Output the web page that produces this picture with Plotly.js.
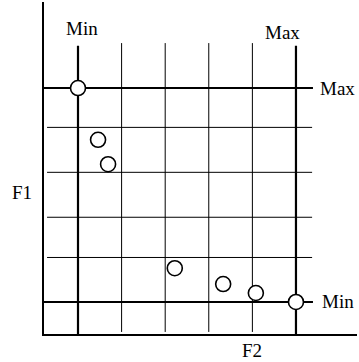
<!DOCTYPE html>
<html>
<head>
<meta charset="utf-8">
<script src="https://cdn.plot.ly/plotly-3.0.1.min.js"></script>
<style>
  html, body { margin: 0; padding: 0; background: #fff; }
  #chart { width: 359px; height: 362px; }
</style>
</head>
<body>
<div id="chart"></div>
<script>
// points (F2 across, F1 up; Min = 0, Max = 5)
var f2 = [0, 0.46, 0.69, 2.22, 3.33, 4.08, 5];
var f1 = [5, 3.79, 3.22, 0.79, 0.42, 0.21, 0];

// grid positions
var gridX = [0, 1, 2, 3, 4, 5];
var gridY = [0, 1.04, 1.98, 3.03, 4.08, 5];

var xMin = 0, xMax = 5;
var yMin = 0, yMax = 5;

var fontFace = 'Liberation Serif, Times New Roman, serif';

//building the grid lines, the Min/Max ones are thicker
var shapes = [];
gridX.forEach(function (gx) {
    var bold = (gx === xMin || gx === xMax);
    shapes.push({
        type: 'line', xref: 'x', yref: 'y', layer: 'below',
        x0: gx, x1: gx,
        y0: bold ? -0.8 : -0.7,
        y1: bold ? 5.99 : 6.05,
        line: { color: '#000', width: bold ? 2.2 : 1 }
    });
});
gridY.forEach(function (gy) {
    var bold = (gy === yMin || gy === yMax);
    shapes.push({
        type: 'line', xref: 'x', yref: 'y', layer: 'below',
        x0: bold ? -0.8 : -0.71,
        x1: bold ? 5.39 : 5.37,
        y0: gy, y1: gy,
        line: { color: '#000', width: bold ? 2.2 : 1 }
    });
});

var labelFont = { family: fontFace, size: 19, color: '#000' };

function label(text, x, y, ref) {
    return {
        text: text, x: x, y: y, xref: ref || 'x', yref: ref || 'y',
        xanchor: 'center', yanchor: 'middle',
        showarrow: false, font: labelFont
    };
}

var annotations = [
    label('Min', xMin + 0.09, 6.38),
    label('Max', xMax - 0.3, 6.3),
    label('Max', 5.96, yMax),
    label('Min', 5.96, yMin),
    label('F1', -0.069, 0.426, 'paper'),
    label('F2', 0.666, -0.05, 'paper')
];

var trace = {
    x: f2,
    y: f1,
    type: 'scatter',
    mode: 'markers',
    cliponaxis: false,
    marker: {
        symbol: 'circle',
        size: 15,
        color: '#fff',
        line: { color: '#000', width: 1.6 }
    },
    hoverinfo: 'none'
};

var layout = {
    width: 359,
    height: 362,
    margin: { l: 44, r: 2, t: 2, b: 28 },
    paper_bgcolor: '#fff',
    plot_bgcolor: '#fff',
    showlegend: false,
    xaxis: {
        range: [-0.78, 6.4],
        showgrid: false,
        zeroline: false,
        showticklabels: false,
        ticks: '',
        showline: true,
        linecolor: '#000',
        linewidth: 2,
        fixedrange: true
    },
    yaxis: {
        range: [-0.748, 7.01],
        showgrid: false,
        zeroline: false,
        showticklabels: false,
        ticks: '',
        showline: true,
        linecolor: '#000',
        linewidth: 2,
        fixedrange: true
    },
    shapes: shapes,
    annotations: annotations
};

Plotly.newPlot('chart', [trace], layout, { displayModeBar: false, staticPlot: true });
</script>
</body>
</html>
